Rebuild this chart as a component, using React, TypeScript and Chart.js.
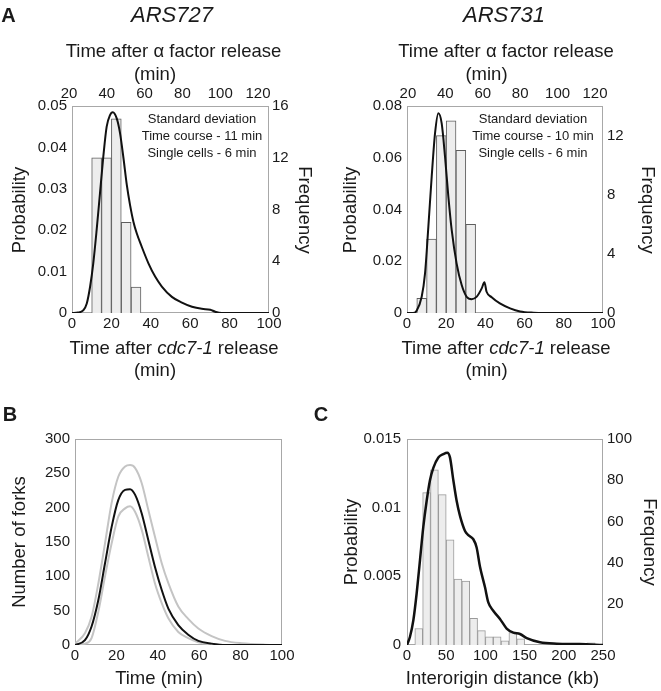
import React, { useEffect, useRef } from "react";
import { Chart, registerables } from "chart.js";

Chart.register(...registerables);

const FONT = "'Liberation Sans', Arial, Helvetica, sans-serif";
const INK = "#1a1a1a";

// ---------- Panel A : ARS727 ----------
const ars727Time = [0, 3, 5.8, 7.5, 9.2, 10.8, 12.5, 14.2, 15.9, 17.6, 19.3, 20.7, 22.7, 24.4, 26.1, 27.8, 29.5, 31.2, 32.9, 35.4, 38.8, 42.2, 45.6, 50.7, 55.8, 60.9, 65.9, 70.2, 72.7, 76.1, 100];
const ars727Prob = [0, 0.0001, 0.0007, 0.0023, 0.0064, 0.012, 0.02, 0.0289, 0.0378, 0.045, 0.0478, 0.0485, 0.047, 0.0434, 0.0375, 0.031, 0.026, 0.022, 0.0192, 0.016, 0.012, 0.0088, 0.0064, 0.0039, 0.0025, 0.0015, 0.001, 0.0008, 0.0003, 0, 0];
const ars727BinStart = [10, 15, 20, 25, 30];
const ars727Freq = [12, 12, 15, 7, 2];

// ---------- Panel A : ARS731 ----------
const ars731Time = [0, 3, 4.9, 7.5, 9.2, 10.9, 12.6, 14.3, 16.0, 17.7, 19.4, 21.1, 22.8, 25.3, 27.9, 30.4, 33.0, 35.6, 38.1, 39.5, 40.6, 43.2, 47.4, 52.6, 57.7, 64.5, 70, 100];
const ars731Prob = [0, 0, 0.0009, 0.0063, 0.0153, 0.0334, 0.0527, 0.0694, 0.0772, 0.0733, 0.0604, 0.045, 0.0321, 0.0192, 0.0108, 0.0063, 0.0053, 0.0063, 0.0095, 0.0119, 0.0082, 0.0061, 0.0037, 0.0018, 0.0006, 0.0001, 0, 0];
const ars731BinStart = [5, 10, 15, 20, 25, 30];
const ars731Freq = [1, 5, 12, 13, 11, 6];

const binWidthA = 5;
const cdcTicks = [0, 20, 40, 60, 80, 100];
const alphaTicks = [20, 40, 60, 80, 100, 120];
const prob727Ticks = [0, 0.01, 0.02, 0.03, 0.04, 0.05];
const freq727Ticks = [0, 4, 8, 12, 16];
const prob731Ticks = [0, 0.02, 0.04, 0.06, 0.08];
const freq731Ticks = [0, 4, 8, 12];

// ---------- Panel B : forks ----------
const forkTime = [0, 4.8, 8, 11.3, 14.5, 17.7, 20.9, 24.2, 26.6, 29, 32.2, 35.4, 38.6, 41.9, 45.1, 49.9, 54.7, 59.6, 66, 72.5, 80.5, 91.8, 100];
const forkMean = [0, 7, 27, 66, 119, 172, 211, 226, 227, 219, 192, 153, 114, 80, 53, 29, 15, 6, 2, 0, 0, 0, 0];
const forkUpper = [2, 17, 41, 90, 148, 207, 245, 260, 262, 258, 236, 197, 158, 119, 90, 56, 38, 24, 13, 6, 2.5, 0.5, 0];
const forkLower = [0, 2, 10, 49, 100, 148, 187, 199, 202, 194, 168, 129, 90, 61, 39, 19, 10, 4, 1, 0, 0, 0, 0];
const forkYTicks = [0, 50, 100, 150, 200, 250, 300];
const forkTimeTicks = [0, 20, 40, 60, 80, 100];

// ---------- Panel C : interorigin distance ----------
const interDist = [0, 3.8, 8.1, 12.3, 16.6, 20.8, 25.1, 29.3, 33.6, 40, 46.3, 51.4, 54.8, 59.1, 63.3, 67.6, 74, 78.2, 84.6, 88.8, 93.1, 99.5, 103.7, 110, 118.6, 127.1, 135.6, 144.1, 152.7, 169.6, 190.9, 220, 250];
const interProb = [0, 0.0006, 0.0018, 0.00375, 0.0062, 0.0086, 0.0105, 0.012, 0.0129, 0.01366, 0.0139, 0.014, 0.01366, 0.012, 0.0105, 0.0094, 0.0083, 0.008, 0.0077, 0.0071, 0.0057, 0.0042, 0.0031, 0.0025, 0.0019, 0.0012, 0.0009, 0.0008, 0.0005, 0.0002, 0.0001, 0.00007, 0];
const interBinStart = [10, 20, 30, 40, 50, 60, 70, 80, 90, 100, 110, 120, 130, 140, 150, 160, 170, 180, 190, 200, 210, 220, 230, 240];
const interFreq = [8, 74, 85, 73, 51, 32, 31, 13, 7, 4, 4, 2, 6, 3, 0, 0, 0, 0, 0, 0, 0, 0, 1, 0];
const interBinWidth = 10;
const distTicks = [0, 50, 100, 150, 200, 250];
const interProbTicks = [0, 0.005, 0.01, 0.015];
const interFreqTicks = [20, 40, 60, 80, 100];

// ---------- helpers ----------
const tickFont = { family: FONT, size: 15 };

function axis(o: { position: string; min: number; max: number; ticks: number[]; size: number; pad: number }) {
  return {
    type: "linear",
    position: o.position,
    min: o.min,
    max: o.max,
    offset: false,
    grid: { display: false, drawTicks: false, offset: false },
    border: { display: false },
    title: { display: false },
    ticks: {
      font: tickFont,
      color: INK,
      padding: o.pad,
      autoSkip: false,
      maxRotation: 0,
      minRotation: 0,
      callback: (v: number) => String(v),
    },
    afterBuildTicks: (s: any) => {
      s.ticks = o.ticks.map((value) => ({ value }));
    },
    afterFit: (s: any) => {
      if (s.isHorizontal()) s.height = o.size;
      else s.width = o.size;
    },
  };
}

const boxPlugin = {
  id: "plotBox",
  beforeDatasetsDraw(chart: any) {
    const { ctx, chartArea: a } = chart;
    ctx.save();
    ctx.strokeStyle = "#a8a8a8";
    ctx.lineWidth = 1;
    ctx.strokeRect(a.left + 0.5, a.top + 0.5, a.right - a.left - 1, a.bottom - a.top - 1);
    ctx.restore();
  },
};

function curve(xs: number[], ys: number[], color: string, width: number, order = 0) {
  return {
    type: "line",
    data: xs.map((x, i) => ({ x, y: ys[i] })),
    xAxisID: "x",
    yAxisID: "y",
    borderColor: color,
    borderWidth: width,
    pointRadius: 0,
    fill: false,
    cubicInterpolationMode: "monotone",
    order,
  };
}

function bars(starts: number[], w: number, freq: number[], border: string) {
  return {
    type: "bar",
    data: starts.map((s, i) => ({ x: s + w / 2, y: freq[i] })),
    xAxisID: "x",
    yAxisID: "y1",
    backgroundColor: "#ededed",
    borderColor: border,
    borderWidth: 1,
    barPercentage: 1,
    categoryPercentage: 1,
    grouped: false,
    order: 5,
  };
}

const baseOptions = {
  animation: false,
  responsive: false,
  maintainAspectRatio: false,
  events: [],
  plugins: { legend: { display: false }, tooltip: { enabled: false }, title: { display: false } },
};

function configA727() {
  return {
    type: "line",
    data: {
      datasets: [
        curve(ars727Time, ars727Prob, "#111", 2),
        bars(ars727BinStart, binWidthA, ars727Freq, "#5e5e5e"),
      ],
    },
    options: {
      ...baseOptions,
      layout: { padding: 0 },
      scales: {
        x: axis({ position: "bottom", min: 0, max: 100, ticks: cdcTicks, size: 59, pad: 2 }),
        x2: axis({ position: "top", min: 21.6, max: 125.8, ticks: alphaTicks, size: 106, pad: 3 }),
        y: axis({ position: "left", min: 0, max: 0.05, ticks: prob727Ticks, size: 72, pad: 5 }),
        y1: axis({ position: "right", min: 0, max: 16, ticks: freq727Ticks, size: 61, pad: 3 }),
      },
    },
    plugins: [boxPlugin],
  };
}

function configA731() {
  return {
    type: "line",
    data: {
      datasets: [
        curve(ars731Time, ars731Prob, "#111", 2),
        bars(ars731BinStart, binWidthA, ars731Freq, "#5e5e5e"),
      ],
    },
    options: {
      ...baseOptions,
      layout: { padding: 0 },
      scales: {
        x: axis({ position: "bottom", min: 0, max: 100, ticks: cdcTicks, size: 59, pad: 2 }),
        x2: axis({ position: "top", min: 19.5, max: 124.3, ticks: alphaTicks, size: 106, pad: 3 }),
        y: axis({ position: "left", min: 0, max: 0.08, ticks: prob731Ticks, size: 77, pad: 5 }),
        y1: axis({ position: "right", min: 0, max: 14, ticks: freq731Ticks, size: 58, pad: 4 }),
      },
    },
    plugins: [boxPlugin],
  };
}

function configB() {
  return {
    type: "line",
    data: {
      datasets: [
        curve(forkTime, forkUpper, "#c4c4c4", 2, 2),
        curve(forkTime, forkLower, "#c4c4c4", 2, 2),
        curve(forkTime, forkMean, "#111", 2, 0),
      ],
    },
    options: {
      ...baseOptions,
      layout: { padding: { top: 67, right: 48, left: 0, bottom: 0 } },
      scales: {
        x: axis({ position: "bottom", min: 0, max: 100, ticks: forkTimeTicks, size: 46, pad: 2 }),
        y: axis({ position: "left", min: 0, max: 300, ticks: forkYTicks, size: 75, pad: 5 }),
      },
    },
    plugins: [boxPlugin],
  };
}

function configC() {
  return {
    type: "line",
    data: {
      datasets: [
        curve(interDist, interProb, "#111", 2.5),
        bars(interBinStart, interBinWidth, interFreq, "#9a9a9a"),
      ],
    },
    options: {
      ...baseOptions,
      layout: { padding: { top: 67, right: 0, left: 0, bottom: 0 } },
      scales: {
        x: axis({ position: "bottom", min: 0, max: 250, ticks: distTicks, size: 46, pad: 2 }),
        y: axis({ position: "left", min: 0, max: 0.015, ticks: interProbTicks, size: 77, pad: 6 }),
        y1: axis({ position: "right", min: 0, max: 100, ticks: interFreqTicks, size: 58, pad: 4 }),
      },
    },
    plugins: [boxPlugin],
  };
}

function ChartCanvas(props: { left: number; top: number; width: number; height: number; make: () => any }) {
  const ref = useRef<HTMLCanvasElement>(null);
  useEffect(() => {
    const chart = new Chart(ref.current as HTMLCanvasElement, props.make() as any);
    return () => chart.destroy();
  }, []);
  return (
    <canvas
      ref={ref}
      width={props.width}
      height={props.height}
      style={{ position: "absolute", left: props.left, top: props.top, width: props.width, height: props.height, display: "block" }}
    />
  );
}

function T(props: { x: number; y: number; size: number; rot?: number; bold?: boolean; italic?: boolean; children: React.ReactNode }) {
  return (
    <div
      style={{
        position: "absolute",
        left: props.x,
        top: props.y,
        transform: `translate(-50%, -50%) rotate(${props.rot || 0}deg)`,
        fontFamily: FONT,
        fontSize: props.size,
        fontWeight: props.bold ? 700 : 400,
        fontStyle: props.italic ? "italic" : "normal",
        lineHeight: 1,
        whiteSpace: "nowrap",
        color: INK,
      }}
    >
      {props.children}
    </div>
  );
}

export default function App() {
  const TS = 18.5;
  return (
    <div style={{ position: "absolute", left: 0, top: 0, width: 661, height: 691, background: "#fff", overflow: "hidden" }}>
      <ChartCanvas left={0} top={0} width={330} height={372} make={configA727} />
      <ChartCanvas left={330} top={0} width={331} height={372} make={configA731} />
      <ChartCanvas left={0} top={372} width={330} height={319} make={configB} />
      <ChartCanvas left={330} top={372} width={331} height={319} make={configC} />

      {/* Panel letters */}
      <T x={8.5} y={14.5} size={20} bold>A</T>
      <T x={10} y={414} size={20} bold>B</T>
      <T x={321} y={414} size={20} bold>C</T>

      {/* Panel A titles */}
      <T x={172} y={15} size={22} italic>ARS727</T>
      <T x={504} y={15} size={22} italic>ARS731</T>

      <T x={173.5} y={51} size={TS}>Time after α factor release</T>
      <T x={155} y={74} size={TS}>(min)</T>
      <T x={506} y={51} size={TS}>Time after α factor release</T>
      <T x={486.5} y={74} size={TS}>(min)</T>

      <T x={174} y={348} size={TS}>Time after <i>cdc7-1</i> release</T>
      <T x={155} y={370} size={TS}>(min)</T>
      <T x={506} y={348} size={TS}>Time after <i>cdc7-1</i> release</T>
      <T x={486.5} y={370} size={TS}>(min)</T>

      <T x={18.5} y={210} size={TS} rot={-90}>Probability</T>
      <T x={305} y={210} size={TS} rot={90}>Frequency</T>
      <T x={350} y={210} size={TS} rot={-90}>Probability</T>
      <T x={648} y={210} size={TS} rot={90}>Frequency</T>

      {/* annotations */}
      <T x={202} y={118} size={13}>Standard deviation</T>
      <T x={202} y={135} size={13}>Time course - 11 min</T>
      <T x={202} y={151.5} size={13}>Single cells - 6 min</T>
      <T x={533} y={118} size={13}>Standard deviation</T>
      <T x={533} y={135} size={13}>Time course - 10 min</T>
      <T x={533} y={151.5} size={13}>Single cells - 6 min</T>

      {/* Panel B / C titles */}
      <T x={18.5} y={542} size={TS} rot={-90}>Number of forks</T>
      <T x={159} y={678} size={TS}>Time (min)</T>
      <T x={350.5} y={542} size={TS} rot={-90}>Probability</T>
      <T x={650} y={542} size={TS} rot={90}>Frequency</T>
      <T x={502.5} y={678} size={TS}>Interorigin distance (kb)</T>
    </div>
  );
}
